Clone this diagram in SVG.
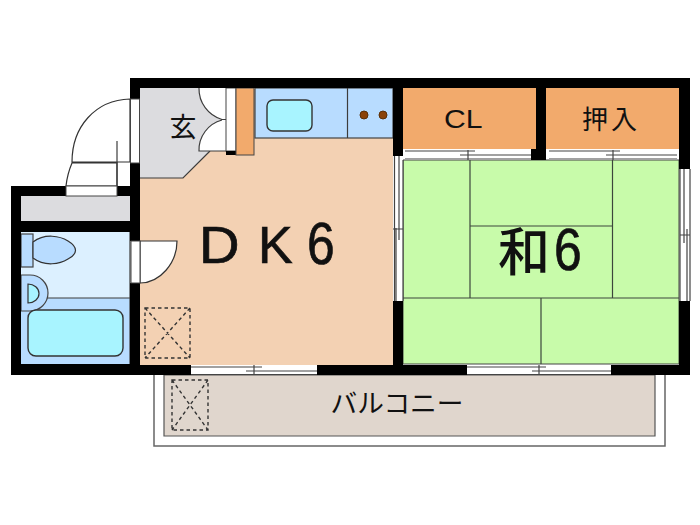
<svg xmlns="http://www.w3.org/2000/svg" width="700" height="525" viewBox="0 0 700 525">
<style>
.l{stroke:#3c3c3c;stroke-width:1.2}
.f{stroke:#3c463c;stroke-width:1.2}
.w{fill:#000}
.d{fill:none;stroke:#333;stroke-width:1.4;stroke-dasharray:3.5 3}
.t{font-family:"Liberation Sans","Noto Sans CJK JP",sans-serif;fill:#111}
.b{stroke:#111;stroke-width:.7}
.j{font-family:"Noto Sans CJK JP",sans-serif;fill:#111}
.rail{fill:none;stroke:#444;stroke-width:1.2}
</style>
<rect width="700" height="525" fill="#fff"/>
<g id="balcony">
<path d="M154 375V446H665V375" fill="#fff" stroke="#666" stroke-width="1.5"/>
<path d="M164 375V436H655V375Z" fill="#e0d6cd" stroke="#555" stroke-width="1.2"/>
<path class="d" d="M172 380H208V430H172ZM172 380L208 430M208 380L172 430"/>
<text class="j" x="397" y="413" font-size="26" text-anchor="middle" textLength="133" lengthAdjust="spacingAndGlyphs">バルコニー</text>
</g>
<g id="dk">
<rect x="140" y="88" width="253" height="277" fill="#f3d1b3"/>
<text class="t b" font-size="52" transform="translate(199 263) scale(1.08 1)">D</text>
<text class="t b" font-size="52" x="258" y="263">K</text>
<text class="t b" font-size="60" transform="translate(307 263.500) scale(0.83 1)">6</text>
<path class="d" d="M145 308H190V358H145ZM145 308L190 358M190 308L145 358"/>
</g>
<g id="kitchen">
<rect x="255" y="88" width="138" height="50" fill="#b8dcff" stroke="#444" stroke-width="1.2"/>
<path class="l" d="M347.500 88V138"/>
<rect x="267" y="100" width="45" height="31" rx="6" fill="#a8f4ff" stroke="#333" stroke-width="1.4"/>
<circle cx="364" cy="115" r="4" fill="#8a4208" stroke="#5a3008"/>
<circle cx="383" cy="115" r="4" fill="#8a4208" stroke="#5a3008"/>
</g>
<g id="entry">
<path d="M140 88H226V151H210L183 178H140Z" fill="#dcdcdf"/>
<path class="l" fill="none" d="M210 151L183 178H140"/>
<path d="M199 88H226V151H199A31 31 0 0 1 222 120A31 31 0 0 1 199 88Z" fill="#fff"/>
<path class="l" fill="none" d="M199 88A32 32 0 0 0 222 119.500H226M222 120A31 31 0 0 0 199 151H236"/>
<rect x="226" y="88" width="10" height="63" fill="#fff" stroke="#444"/>
<rect x="226" y="151" width="10" height="4" fill="#000"/>
<rect x="236" y="88" width="18" height="67" fill="#f2aa6c" stroke="#444" stroke-width="1"/>
<text class="j" x="183" y="137" font-size="27" text-anchor="middle">玄</text>
</g>
<g id="closet-cl">
<rect x="403" y="88" width="133" height="61" fill="#f2aa6c"/>
<text class="t" font-size="26" transform="translate(444 128) scale(1.16 1)">CL</text>
</g>
<g id="closet-oshiire">
<rect x="546" y="88" width="133" height="61" fill="#f2aa6c"/>
<text class="j" x="582" y="129" font-size="26" letter-spacing="3">押入</text>
</g>
<g id="washitsu">
<rect x="403" y="160" width="276" height="204" fill="#c8fbaa" stroke="#444" stroke-width="1"/>
<path class="f" d="M470 160V298M612.500 160V298M470 226H612M403 298H679M541 298V364"/>
<text class="j" x="498" y="271" font-size="52" font-weight="500">和</text>
<text class="t b" font-size="60" transform="translate(554 270) scale(0.83 1)">6</text>
</g>
<g id="storage"><rect x="21" y="196" width="109" height="25" fill="#dcdcdf"/></g>
<g id="bath">
<rect x="21" y="232" width="109" height="66" fill="#dcf0ff"/>
<rect x="21" y="298" width="109" height="66" fill="#b8dcff"/>
<path class="l" d="M21 298H130M130 232V364" fill="none"/>
<rect x="21" y="234" width="12" height="33" fill="#b8dcff" stroke="#444" stroke-width="1.2"/>
<path d="M33 242C45 233 60 236 68 241C78 247 78 254 68 259C60 264 45 267 33 258Z" fill="#b8dcff" stroke="#333" stroke-width="1.2"/>
<path d="M21 275H30A18 18 0 0 1 30 311H21Z" fill="#b8dcff" stroke="#444" stroke-width="1.2"/>
<path d="M28 284A11 9.500 0 0 1 28 303Z" fill="#a8f4ff" stroke="#333" stroke-width="1.2"/>
<rect x="28" y="310" width="95" height="46" rx="8" fill="#a8f4ff" stroke="#333" stroke-width="1.4"/>
</g>
<g id="walls">
<path class="w" d="M130 78H690V169H679V88H546V160H531V149H536V88H403V156H393V88H140V99H130Z"/>
<path class="w" d="M130 163H140V241H130ZM130 283H140V365H191V375H11V186H66V196H21V221H130V232H21V364H130ZM117 186H130V196H117ZM393 301H403V365H467V375H317V365H393ZM611 365H679V301H690V375H611ZM549 149H546V160H531V149Z"/>
</g>
<g id="connectors">
<path d="M130 99C95 100 72 127 72 162H130ZM72 163C69 170 67 177 66 186H117V163Z" fill="#fff" stroke="#333" stroke-width="1.2"/>
<path class="l" d="M117 141V186" fill="none"/>
<rect x="130.500" y="99" width="9" height="64" fill="#fff" stroke="#444"/>
<rect x="66" y="186" width="51" height="10" fill="#fff" stroke="#444"/>
<path d="M140 241H177C177 263 160 283 140 283Z" fill="#fff" stroke="#333" stroke-width="1.2"/>
<rect x="131" y="241" width="9" height="42" fill="#fff" stroke="#444"/>
<g id="win-dk" fill="#fff"><rect x="191" y="365" width="126" height="10"/><path class="rail" d="M191 367H262M247 371H317M191 374.500H317M254 365V375M246 371H262"/></g>
<g id="win-wa" fill="#fff"><rect x="467" y="365" width="144" height="10"/><path class="rail" d="M467 367H546M532 371H611M467 374.500H611M539 365V375"/></g>
<g id="win-e" fill="#fff"><rect x="394" y="156" width="9" height="145"/><path class="rail" d="M394.500 156V301M399 156V240M396 228V301M403 160V301M393 229H403"/></g>
<g id="win-r" fill="#fff"><rect x="680" y="169" width="10" height="132"/><path class="rail" d="M680 169V301M684 169V243M687 229V301M690 169V301M680 235H690"/></g>
<g id="win-cl" fill="#fff"><rect x="405" y="150" width="126" height="10"/><path class="rail" d="M405 151H475M460 155H531M405 159H531M468 150V160"/></g>
<g id="win-ca" fill="#fff"><rect x="549" y="150" width="128" height="10"/><path class="rail" d="M549 151H620M606 155H677M549 159H677M613 150V160"/></g>
</g>
</svg>
